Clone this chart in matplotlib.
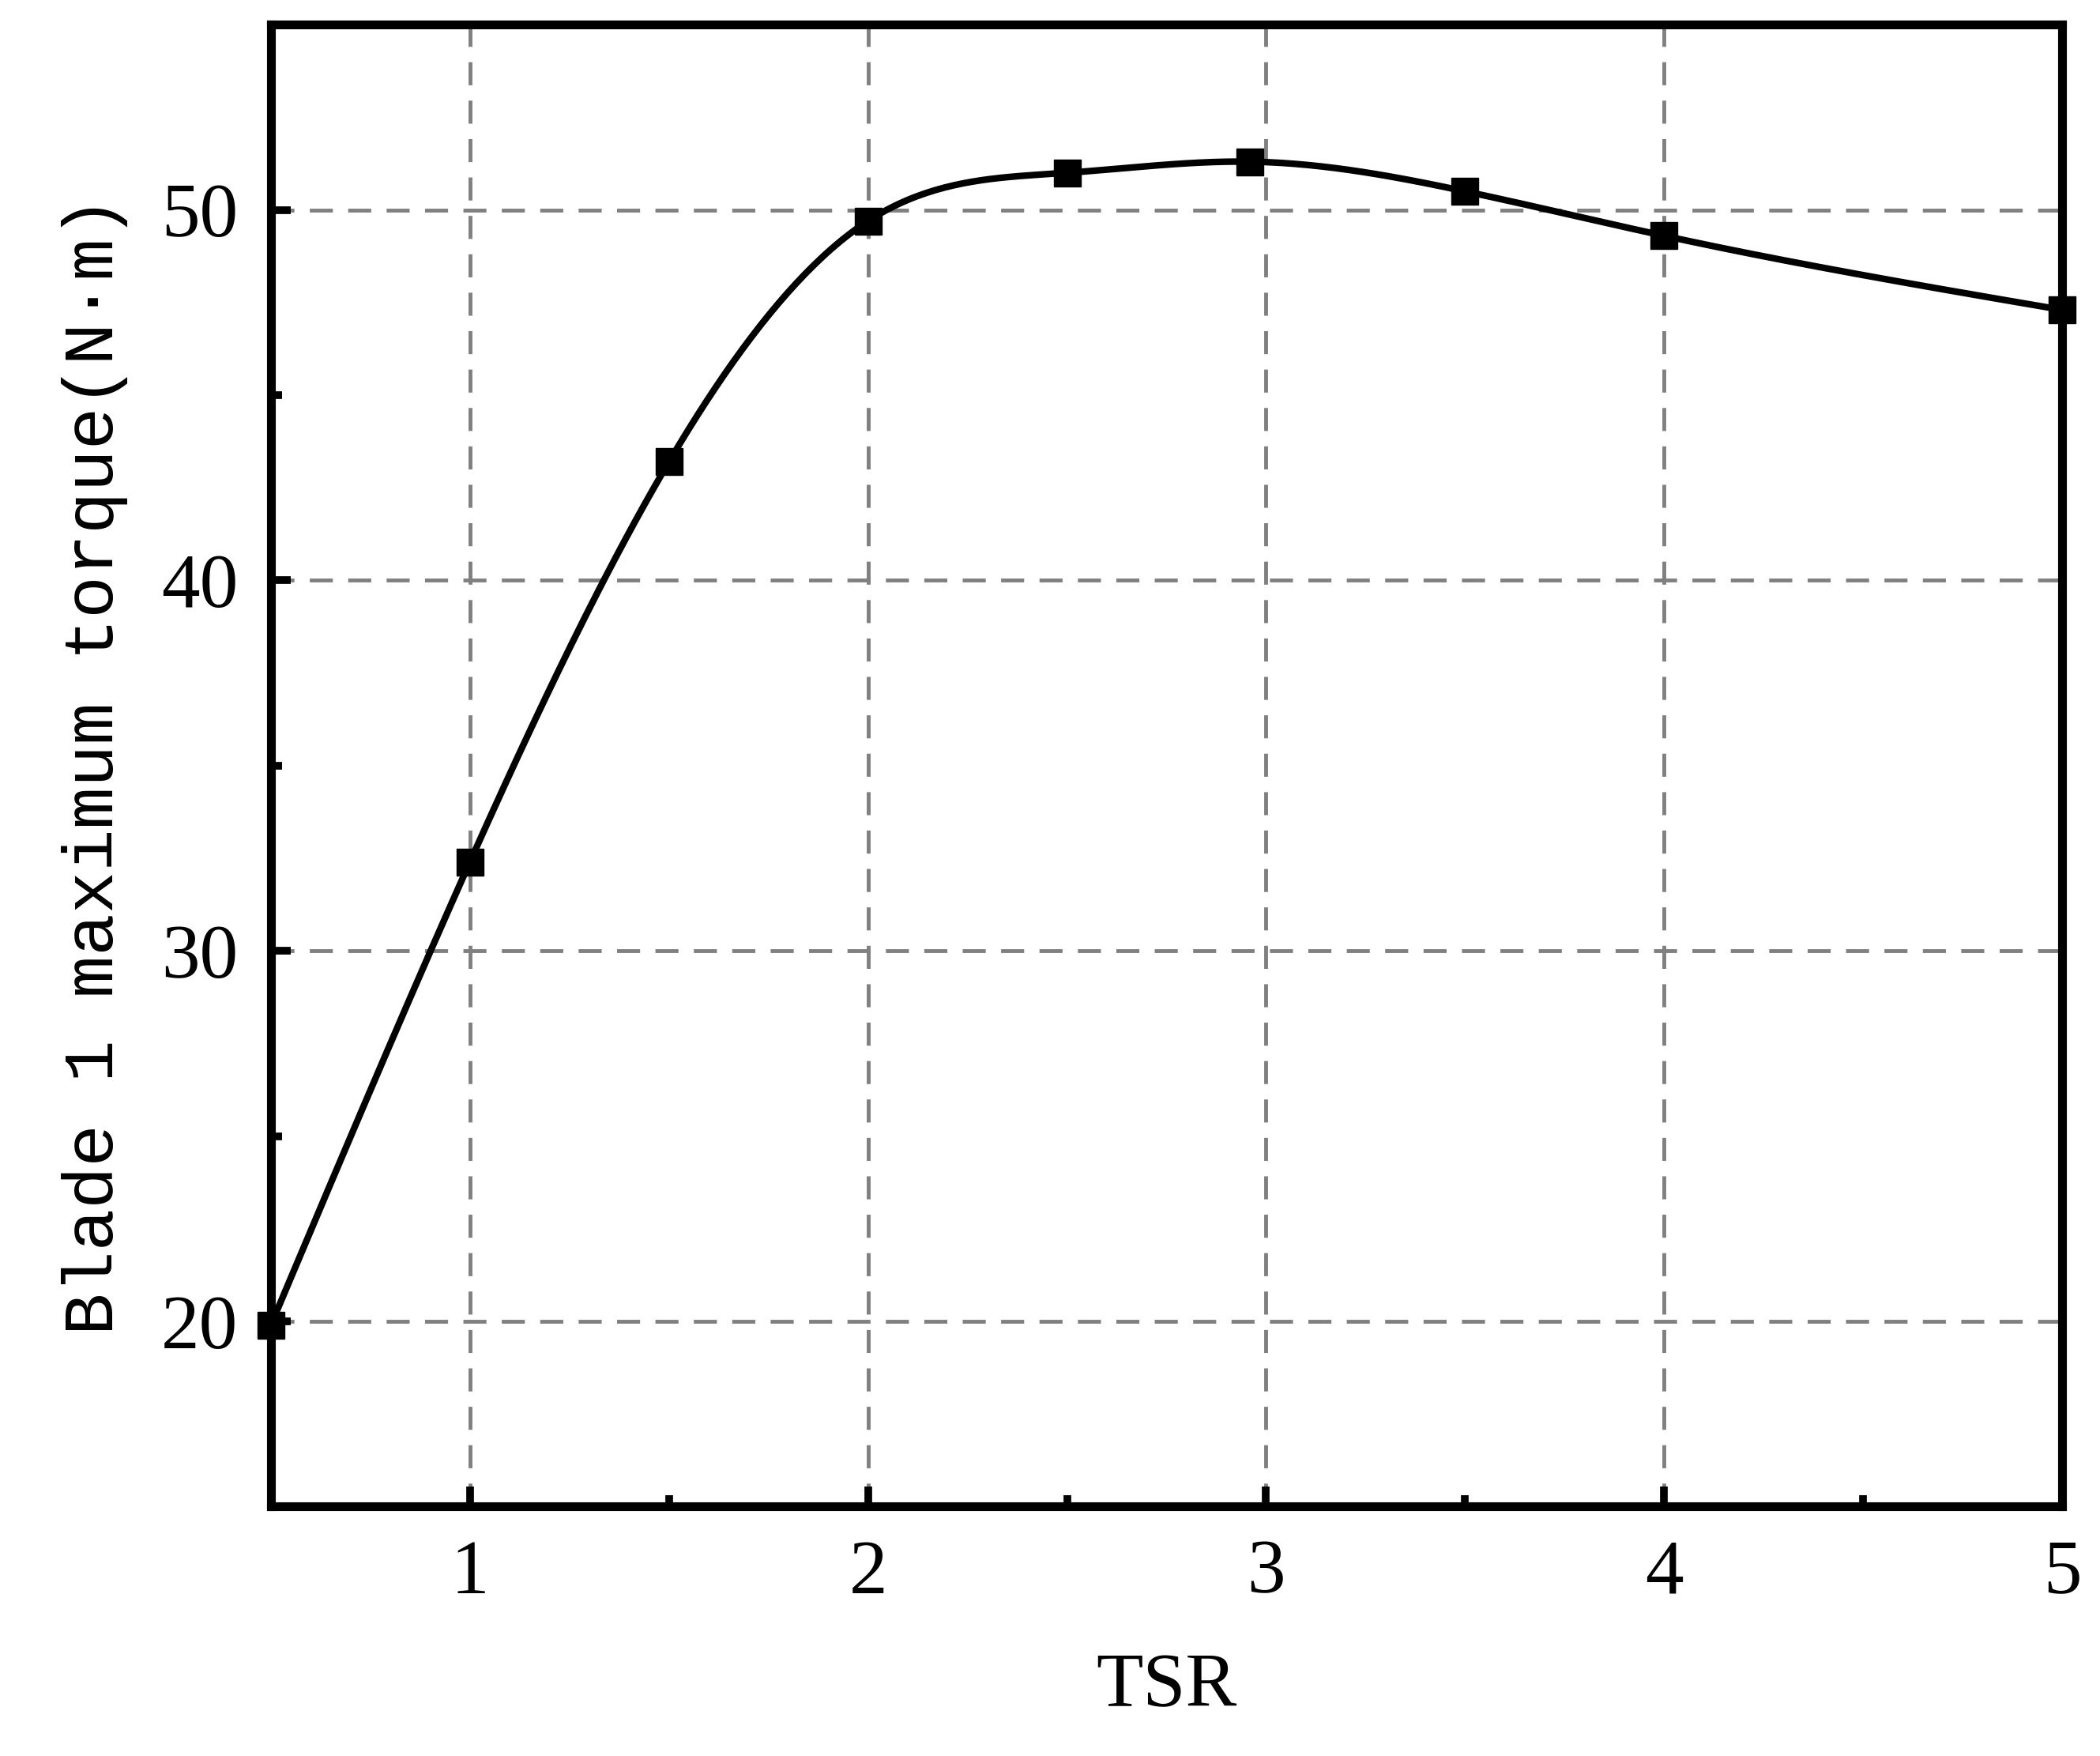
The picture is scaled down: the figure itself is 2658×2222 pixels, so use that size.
import numpy as np
import matplotlib.pyplot as plt
from matplotlib.ticker import MultipleLocator

tsr = [0.5, 1.0, 1.5, 2.0, 2.5, 2.96, 3.5, 4.0, 5.0]
torque = [19.9, 32.4, 43.2, 49.7, 51.0, 51.3, 50.5, 49.3, 47.3]


def natural_spline(x, y, xs):
    x = np.asarray(x, float); y = np.asarray(y, float)
    n = len(x); h = np.diff(x)
    A = np.zeros((n, n)); b = np.zeros(n)
    A[0, 0] = A[-1, -1] = 1
    for i in range(1, n - 1):
        A[i, i - 1] = h[i - 1]; A[i, i] = 2 * (h[i - 1] + h[i]); A[i, i + 1] = h[i]
        b[i] = 3 * ((y[i + 1] - y[i]) / h[i] - (y[i] - y[i - 1]) / h[i - 1])
    c = np.linalg.solve(A, b)
    out = []
    for t in xs:
        i = min(max(np.searchsorted(x, t) - 1, 0), n - 2)
        d = t - x[i]
        bb = (y[i + 1] - y[i]) / h[i] - h[i] * (2 * c[i] + c[i + 1]) / 3
        dd = (c[i + 1] - c[i]) / (3 * h[i])
        out.append(y[i] + bb * d + c[i] * d ** 2 + dd * d ** 3)
    return np.array(out)


plt.rcParams['font.family'] = ['Liberation Serif', 'DejaVu Serif']
fig = plt.figure(figsize=(26.58, 22.22), dpi=100)
ax = fig.add_axes([0.129, 0.142, 0.853, 0.844])

xs = np.linspace(0.5, 5, 400)
ax.plot(xs, natural_spline(tsr, torque, xs), color='black', lw=6)
ax.plot(tsr, torque, 's', color='black', ms=24, clip_on=False)

ax.set_xlim(0.5, 5)
ax.set_ylim(15, 55)
ax.xaxis.set_minor_locator(MultipleLocator(0.5))
ax.yaxis.set_minor_locator(MultipleLocator(5))
ax.set_xticks([1, 2, 3, 4, 5])
ax.set_yticks([20, 30, 40, 50])
ax.grid(True, which='major', color='gray', ls=(0, (6, 4)), lw=3.5)
ax.set_axisbelow(True)
ax.tick_params(which='major', direction='in', length=18, width=7, labelsize=70, pad=30)
ax.tick_params(which='minor', direction='in', length=10, width=7)
for s in ax.spines.values():
    s.set_linewidth(8)

ax.set_xlabel('TSR', fontsize=70, labelpad=40)
ax.set_ylabel('Blade 1 maximum torque(N·m)', fontsize=64, labelpad=30,
              family=['Liberation Mono', 'DejaVu Sans Mono'])

fig.savefig('out.png')
